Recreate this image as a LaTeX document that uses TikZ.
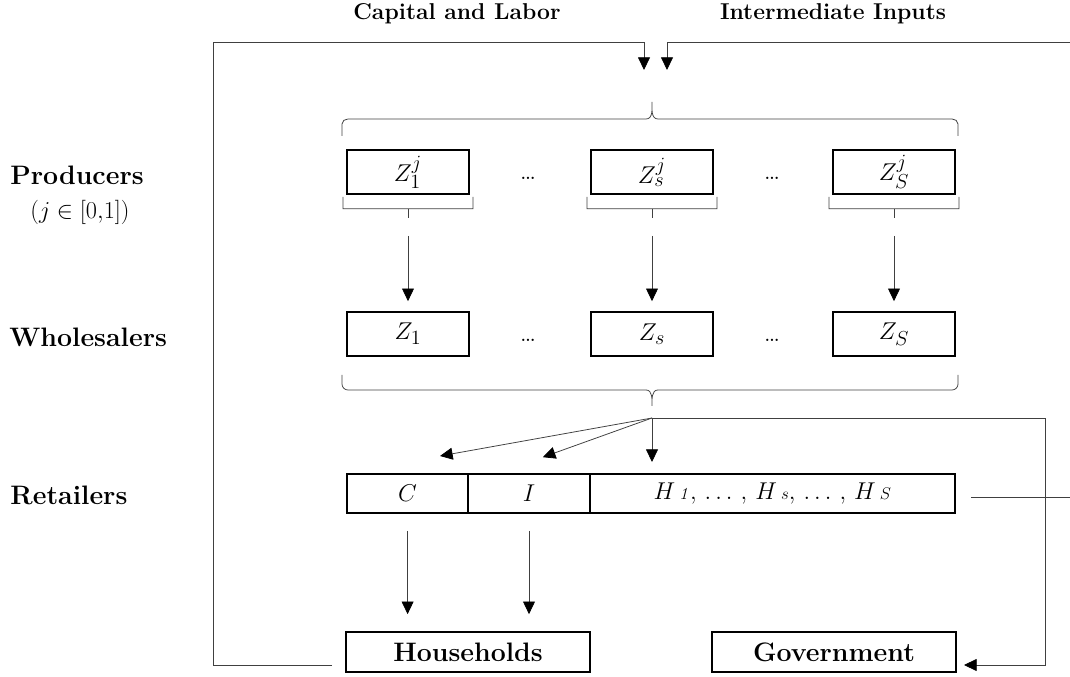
\documentclass[tikz,border=0pt]{standalone}
\usetikzlibrary{arrows.meta,calc}

\begin{document}
\begin{tikzpicture}[draw=black!75,line width=0.55pt]
    \tikzstyle{flow}=[-{Triangle[width=8.5pt,length=9pt,color=black]}]
    \tikzstyle{firm}=[draw=black,line width=1.2pt,minimum width=3.05cm,minimum height=1.1cm,inner sep=0pt,font=\fontsize{19}{22}\selectfont]
    \tikzstyle{cell}=[firm,minimum height=0.98cm]
    \tikzstyle{agent}=[firm,minimum width=6.1cm,minimum height=1cm,font=\fontsize{19}{23}\selectfont\bfseries]
    \tikzstyle{sector}=[anchor=base west,inner sep=0pt,font=\fontsize{19}{23}\selectfont\bfseries]
    \tikzstyle{head}=[anchor=base,inner sep=0pt,font=\fontsize{16.3}{20}\selectfont\bfseries]
    \tikzstyle{dots}=[inner sep=0pt,font=\fontsize{20}{24}\selectfont]

    \useasboundingbox (0,0) rectangle (26.75,-16.925);

    % Inputs on top
    \node[head] (cl) at (11.425,-0.5) {Capital and Labor};
    \node[head] (ii) at (20.825,-0.5) {Intermediate Inputs};

    % Sector names
    \node[sector] (prod) at (0.25,-4.625) {Producers};
    \node[inner sep=0pt,anchor=base,font=\fontsize{18}{22}\selectfont] (jrange) at (2.0,-5.475) {$(j \in [0{,}1])$};
    \node[sector] (whol) at (0.225,-8.675) {Wholesalers};
    \node[sector] (reta) at (0.25,-12.625) {Retailers};

    % Producers
    \node[firm] (P1) at (10.2,-4.3) {$Z_1^j$};
    \node[firm] (Ps) at (16.3,-4.3) {$Z_s^j$};
    \node[firm] (PS) at (22.35,-4.3) {$Z_S^j$};
    \node[dots] (pd1) at (13.2,-4.45) {\ldots};
    \node[dots] (pd2) at (19.3,-4.45) {\ldots};

    % Wholesalers
    \node[firm] (W1) at (10.2,-8.35) {$Z_1$};
    \node[firm] (Ws) at (16.3,-8.35) {$Z_s$};
    \node[firm] (WS) at (22.35,-8.35) {$Z_S$};
    \node[dots] (wd1) at (13.2,-8.5) {\ldots};
    \node[dots] (wd2) at (19.3,-8.5) {\ldots};

    % Retailers
    \node[cell,minimum width=3.025cm] (C) at (10.19,-12.34) {$C$};
    \node[cell] (I) at (13.225,-12.34) {$I$};
    \node[cell,minimum width=9.125cm,font=\fontsize{17}{20}\selectfont] (H) at (19.31,-12.34)
        {$H\,{\scriptstyle\mathit{1}},\,\ldots\,,\,H\,{\scriptstyle s},\,\ldots\,,\,H\,{\scriptstyle S}$};

    % Final users
    \node[agent] (HH) at (11.7,-16.3) {Households};
    \node[agent] (G) at (20.85,-16.3) {Government};

    % Loose ends of the connectors
    \coordinate (in1) at (16.1,-1.75);
    \coordinate (in2) at (16.675,-1.75);
    \coordinate (hhl) at (8.3,-16.625);
    \coordinate (ltop) at (5.325,-1.05);
    \coordinate (rtop) at (26.75,-1.05);
    \coordinate (br) at (16.3,-10.45);
    \coordinate (toC) at (11.0,-11.4);
    \coordinate (toI) at (13.57,-11.43);
    \coordinate (toH) at (16.3,-11.55);
    \coordinate (gr) at (26.125,-16.625);
    \coordinate (gin) at (24.1,-16.625);
    \coordinate (rl) at (24.275,-12.425);
    \coordinate (rr) at (26.75,-12.425);

    % Inputs back into production
    \draw[flow] (hhl) -| (ltop) -| (in1);
    \draw[flow] (rtop) -| (in2);

    % Brace over the producers
    \draw (8.55,-3.4) -- (8.55,-3.1) to[out=90,in=180] (8.7,-2.975) -- (16.15,-2.975)
        to[out=0,in=-90] (16.3,-2.55) to[out=-90,in=180] (16.45,-2.975) -- (23.8,-2.975)
        to[out=0,in=90] (23.95,-3.1) -- (23.95,-3.4);

    % Brackets under each producer
    \foreach \n in {P1,Ps,PS}{
        \draw ($(\n.south west)+(-0.08,-0.05)$) -- ++(0,-0.3) -- ($(\n.south east)+(0.08,-0.35)$) -- ++(0,0.3);
        \draw ($(\n.south)+(0,-0.35)$) -- ++(0,-0.22);
    }

    % Producers to wholesalers
    \foreach \s in {1,s,S}
        \draw[flow,shorten <=1.025cm,shorten >=0.25cm] (P\s.south) -- (W\s.north);

    % Brace under the wholesalers
    \draw (8.55,-9.375) -- (8.55,-9.6) to[out=-90,in=180] (8.7,-9.75) -- (16.15,-9.75)
        to[out=0,in=90] (16.3,-10.15) to[out=90,in=180] (16.45,-9.75) -- (23.8,-9.75)
        to[out=0,in=-90] (23.95,-9.6) -- (23.95,-9.375);

    % Wholesalers to retailers and government
    \draw[flow] (br) -- (toC);
    \draw[flow] (br) -- (toI);
    \draw[flow] (br) -- (toH);
    \draw[flow] (br) -| (gr) -- (gin);
    \draw (rl) -- (rr);

    % Retailers to households
    \draw[flow,shorten <=0.42cm,shorten >=0.425cm] (C.south) -- (C.south |- HH.north);
    \draw[flow,shorten <=0.42cm,shorten >=0.425cm] (I.south) -- (I.south |- HH.north);
\end{tikzpicture}
\end{document}
